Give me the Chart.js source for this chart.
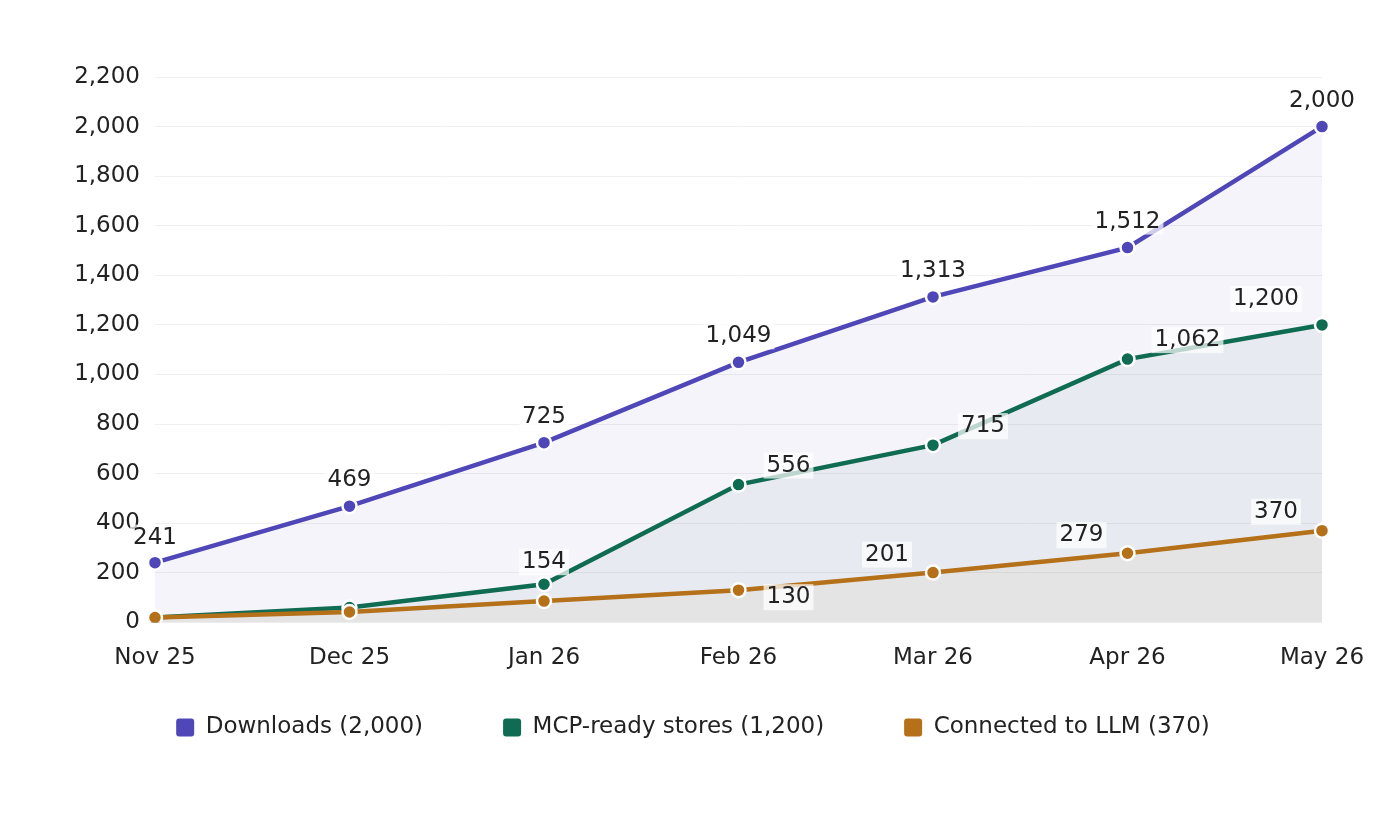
<!DOCTYPE html>
<html>
<head>
<meta charset="utf-8">
<script src="https://cdn.jsdelivr.net/npm/chart.js@4/dist/chart.umd.min.js"></script>
<style>
  html, body { margin: 0; padding: 0; background: #fff; }
  #wrap { width: 1400px; height: 816px; }
</style>
</head>
<body>
<div id="wrap"><canvas id="growth-chart"></canvas></div>
<script>
const months = ["Nov 25", "Dec 25", "Jan 26", "Feb 26", "Mar 26", "Apr 26", "May 26"]
const downloads = [241, 469, 725, 1049, 1313, 1512, 2000]
const mcpReady = [20, 60, 154, 556, 715, 1062, 1200]
const connected = [20, 42, 86, 130, 201, 279, 370]
const yTicks = [0, 200, 400, 600, 800, 1000, 1200, 1400, 1600, 1800, 2000, 2200]

const seriesNames = ["Downloads", "MCP-ready stores", "Connected to LLM"]
const seriesColors = ["#4f46b8", "#0f6b52", "#b5701a"]
const seriesFills = ["rgba(79,70,184,0.06)", "rgba(15,107,82,0.06)", "rgba(181,112,26,0.06)"]

// where each value label sits relative to its point (null = no label)
const labelOffsets = [
    [[0, -25], [0, -26], [0, -26], [0, -26], [0, -26], [0, -26], [0, -26]],
    [null, null, [0, -22], [50, -19], [50, -19], [60, -19], [-56, -26]],
    [null, null, null, [50, 7], [-46, -18], [-46, -18], [-46, -19]]
]

const fmt = v => v.toLocaleString("en-US")
const FONT = "DejaVu Sans"
const FSIZE = 23

// draws value labels with a white backing box
const valueLabels = {
    id: "valueLabels",
    afterDatasetsDraw(chart) {
        const ctx = chart.ctx
        ctx.save()
        ctx.font = FSIZE + "px '" + FONT + "'"
        ctx.textAlign = "center"
        ctx.textBaseline = "middle"
        chart.data.datasets.forEach((ds, di) => {
            const meta = chart.getDatasetMeta(di)
            meta.data.forEach((pt, i) => {
                const off = labelOffsets[di][i]
                if (!off) return
                const txt = fmt(ds.data[i])
                const x = pt.x + off[0]
                const y = pt.y + off[1]
                const w = ctx.measureText(txt).width + 6
                ctx.fillStyle = "rgba(255,255,255,0.72)"
                ctx.fillRect(x - w / 2, y - 13, w, 26)
                ctx.fillStyle = "#222"
                ctx.fillText(txt, x, y)
            })
        })
        ctx.restore()
    }
}

// pull the legend up closer to the axis (legend padding also sets item gap)
const legendShift = {
    id: "legendShift",
    afterLayout(chart) {
        const lg = chart.legend
        if (!lg) return
        lg.top -= 58
        lg.bottom -= 58
        lg.left += 32
        lg.right += 32
    }
}

function makeDataset(idx, values, order) {
    return {
        label: seriesNames[idx] + " (" + fmt(values[values.length - 1]) + ")",
        data: values,
        borderColor: seriesColors[idx],
        backgroundColor: seriesFills[idx],
        fill: "origin",
        borderWidth: 4.5,
        tension: 0,
        pointRadius: 7,
        pointBorderWidth: 2.5,
        pointBackgroundColor: seriesColors[idx],
        pointBorderColor: "#fff",
        order: order
    }
}

const chart = new Chart(document.getElementById("growth-chart"), {
    type: "line",
    data: {
        labels: months,
        datasets: [
            makeDataset(0, downloads, 3),
            makeDataset(1, mcpReady, 2),
            makeDataset(2, connected, 1)
        ]
    },
    plugins: [valueLabels, legendShift],
    options: {
        responsive: true,
        maintainAspectRatio: false,
        animation: false,
        layout: { padding: { left: 0, right: 78, top: 77, bottom: 9 } },
        plugins: {
            tooltip: { enabled: false },
            legend: {
                position: "bottom",
                labels: {
                    font: { family: FONT, size: FSIZE },
                    color: "#222",
                    boxWidth: 18,
                    boxHeight: 18,
                    padding: 80,
                    useBorderRadius: true,
                    borderRadius: 3,
                    generateLabels(c) {
                        return c.data.datasets.map((ds, i) => ({
                            text: ds.label,
                            fillStyle: seriesColors[i],
                            strokeStyle: seriesColors[i],
                            lineWidth: 0,
                            fontColor: "#222",
                            borderRadius: 3,
                            datasetIndex: i
                        }))
                    }
                }
            }
        },
        scales: {
            x: {
                offset: false,
                grid: { display: false, drawTicks: false },
                border: { display: false },
                ticks: { font: { family: FONT, size: FSIZE }, color: "#222", padding: 22, maxRotation: 0, autoSkip: false }
            },
            y: {
                min: 0,
                max: 2200,
                afterBuildTicks(scale) { scale.ticks = yTicks.map(v => ({ value: v })) },
                grid: { color: "#f0f0f0", drawTicks: false, lineWidth: 1 },
                border: { display: false },
                ticks: { font: { family: FONT, size: FSIZE }, color: "#222", padding: 15, callback: v => fmt(v) },
                afterFit(scale) { scale.width = 155 }
            }
        }
    }
})
</script>
</body>
</html>
